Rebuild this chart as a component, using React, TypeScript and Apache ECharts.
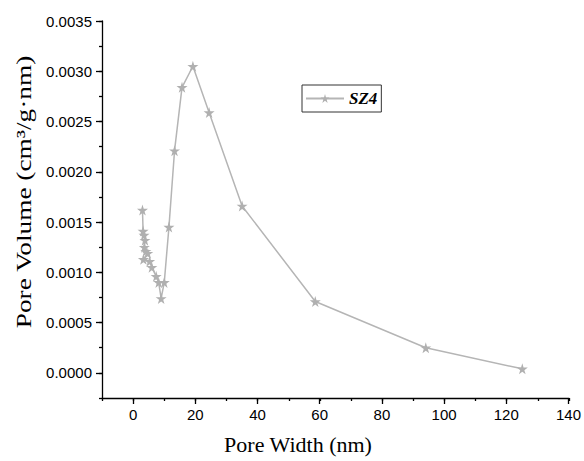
import React, { useEffect, useRef } from "react";
import * as echarts from "echarts";

const poreWidth = [3.0, 3.2, 3.5, 3.8, 3.6, 4.1, 4.7, 3.3, 5.3, 6.0, 7.4, 8.2, 9.0, 10.0, 11.5, 13.3, 15.7, 19.2, 24.4, 35.0, 58.5, 94.0, 125.0];
const poreVolume = [0.00162, 0.00141, 0.00137, 0.00132, 0.00125, 0.00121, 0.00119, 0.00113, 0.00111, 0.00105, 0.00096, 0.0009, 0.00074, 0.0009, 0.00145, 0.00221, 0.00284, 0.00305, 0.00259, 0.00166, 0.00071, 0.00025, 0.00004];
const xMin = -10;
const xMax = 140;
const xLabelStep = 20;
const xMinorStep = 10;
const yMin = -0.00025;
const yMax = 0.0035;
const yLabelStep = 0.0005;
const yMinorStep = 0.00025;
const seriesName = "SZ4";

const STAR = "path://M50,0 L61,35 L98,35 L68,57 L79,91 L50,70 L21,91 L32,57 L2,35 L39,35 Z";

export default function App() {
  const ref = useRef<HTMLDivElement>(null);
  useEffect(() => {
    if (!ref.current) return;
    const chart = echarts.init(ref.current, null, { renderer: "svg" });
    const sans = "'Liberation Sans', Arial, sans-serif";
    const serif = "'Liberation Serif', 'Times New Roman', serif";
    const tickStyle = { color: "#000", width: 1.3 };

    const W = 584, H = 461;
    const L = 102, R = 15, T = 21, B = 63;
    const plotW = W - L - R;
    const plotH = H - T - B;
    // grids whose axes start at 0, so the labelled ticks fall on 0, 20, ... and 0, 0.0005, ...
    const zeroX = L + (plotW * (0 - xMin)) / (xMax - xMin);
    const zeroY = T + (plotH * (yMax - 0)) / (yMax - yMin);

    const hidden = { show: false };

    chart.setOption({
      animation: false,
      backgroundColor: "#fff",
      grid: [
        { left: L, right: R, top: T, bottom: B },
        { left: zeroX, right: R, top: T, bottom: B },
        { left: L, right: R, top: T, bottom: H - zeroY },
      ],
      xAxis: [
        {
          gridIndex: 0,
          type: "value",
          min: xMin,
          max: xMax,
          interval: xMinorStep,
          axisLine: { show: true, onZero: false, lineStyle: tickStyle },
          splitLine: hidden,
          axisTick: { show: true, length: 3, lineStyle: tickStyle },
          axisLabel: hidden,
        },
        {
          gridIndex: 1,
          type: "value",
          min: 0,
          max: xMax,
          interval: xLabelStep,
          axisLine: { show: false, onZero: false },
          splitLine: hidden,
          axisTick: { show: true, length: 6, lineStyle: tickStyle },
          axisLabel: { color: "#000", fontFamily: sans, fontSize: 15, margin: 9 },
        },
        { gridIndex: 2, type: "value", min: xMin, max: xMax, show: false },
      ],
      yAxis: [
        {
          gridIndex: 0,
          type: "value",
          min: yMin,
          max: yMax,
          interval: yMinorStep,
          axisLine: { show: true, onZero: false, lineStyle: tickStyle },
          splitLine: hidden,
          axisTick: { show: true, length: 3, lineStyle: tickStyle },
          axisLabel: hidden,
        },
        { gridIndex: 1, type: "value", min: 0, max: yMax, show: false },
        {
          gridIndex: 2,
          type: "value",
          min: 0,
          max: yMax,
          interval: yLabelStep,
          axisLine: { show: false, onZero: false },
          splitLine: hidden,
          axisTick: { show: true, length: 6, lineStyle: tickStyle },
          axisLabel: {
            color: "#000",
            fontFamily: sans,
            fontSize: 15,
            margin: 10,
            formatter: (v: number) => v.toFixed(4),
          },
        },
      ],
      legend: {
        left: 302,
        top: 85,
        orient: "horizontal",
        itemWidth: 38,
        itemHeight: 11,
        itemGap: 5,
        padding: [5, 4, 5, 3],
        borderColor: "#333",
        borderWidth: 1,
        textStyle: { fontFamily: serif, fontSize: 17, fontWeight: "bold", fontStyle: "italic", color: "#000" },
        data: [seriesName],
      },
      graphic: [
        {
          type: "text",
          x: 298,
          y: 444,
          style: { text: "Pore Width (nm)", font: `22px ${serif}`, fill: "#000", align: "center", verticalAlign: "middle" },
        },
        {
          type: "text",
          x: 24,
          y: 192,
          rotation: Math.PI / 2,
          scaleX: 1.3,
          style: { text: "Pore Volume (cm³/g·nm)", font: `21px ${serif}`, fill: "#000", align: "center", verticalAlign: "middle" },
        },
      ],
      series: [
        {
          name: seriesName,
          type: "line",
          xAxisIndex: 0,
          yAxisIndex: 0,
          data: poreWidth.map((x, i) => [x, poreVolume[i]]),
          symbol: STAR,
          symbolSize: 11,
          showAllSymbol: true,
          lineStyle: { color: "#b5b5b5", width: 1.5 },
          itemStyle: { color: "#b0b0b0" },
        },
      ],
    });
    return () => chart.dispose();
  }, []);
  return <div ref={ref} style={{ width: 584, height: 461, position: "absolute", left: 0, top: 0 }} />;
}
